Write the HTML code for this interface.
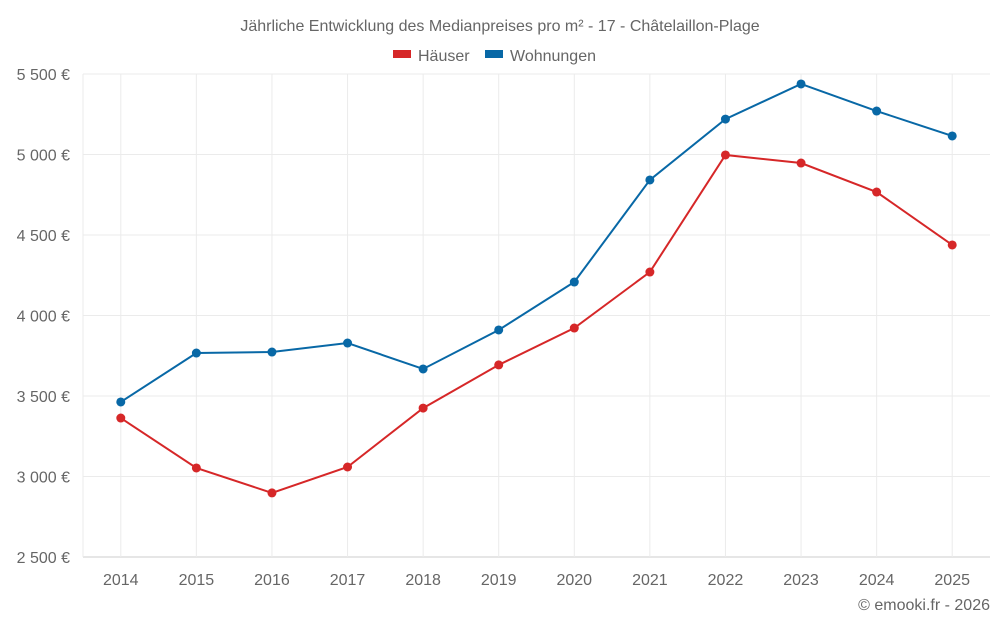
<!DOCTYPE html>
<html><head><meta charset="utf-8"><style>
body{margin:0;background:#fff;font-family:"Liberation Sans",sans-serif;}
svg text{font-family:"Liberation Sans",sans-serif;fill:#666;}
</style></head><body>
<svg id="chart" width="1000" height="625" viewBox="0 0 1000 625">
<text x="500" y="31" text-anchor="middle" font-size="16">Jährliche Entwicklung des Medianpreises pro m² - 17 - Châtelaillon-Plage</text>
<g>
<g><rect x="393" y="50" width="18" height="8" fill="#d62728"/><text x="418" y="61" font-size="16">Häuser</text></g>
<g><rect x="485" y="50" width="18" height="8" fill="#0868a6"/><text x="510" y="61" font-size="16">Wohnungen</text></g>
</g>
<g id="grid"></g><g id="axes"></g><g id="series"></g>
<text x="990" y="610" text-anchor="end" font-size="16">© emooki.fr - 2026</text>
</svg>
<script>
const years=[2014,2015,2016,2017,2018,2019,2020,2021,2022,2023,2024,2025];
const haeuser=[3363,3053,2898,3059,3425,3693,3922,4270,4997,4947,4767,4438];
const wohnungen=[3463,3767,3773,3829,3668,3910,4208,4842,5220,5438,5270,5115];
const yTicks=[2500,3000,3500,4000,4500,5000,5500];
const yTickLabels=["2 500 €","3 000 €","3 500 €","4 000 €","4 500 €","5 000 €","5 500 €"];
const L=83,R=990,T=74,B=557,yMin=2500,yMax=5500;
const step=(R-L)/years.length;
const x=i=>L+step*(i+0.5);
const y=v=>B-(v-yMin)/(yMax-yMin)*(B-T);
const NS="http://www.w3.org/2000/svg";
function mk(tag,attrs,parent){const e=document.createElementNS(NS,tag);for(const k in attrs)e.setAttribute(k,attrs[k]);document.getElementById(parent).appendChild(e);return e;}
yTicks.forEach((t,i)=>{
 const g=mk('line',{x1:L,x2:R,y1:y(t),y2:y(t),stroke:i==0?'#ccc':'#ebebeb'},'grid');
 
 
 const tx=mk('text',{x:70,y:y(t)+6,'text-anchor':'end','font-size':'16'},'axes');tx.textContent=yTickLabels[i];
 
 
});
const lb=mk('line',{x1:L,x2:L,y1:T,y2:B,stroke:'#ebebeb'},'grid');


years.forEach((yr,i)=>{
 const g=mk('line',{x1:x(i),x2:x(i),y1:T,y2:B,stroke:'#ebebeb'},'grid');
 
 
 const tx=mk('text',{x:x(i),y:585,'text-anchor':'middle','font-size':'16'},'axes');tx.textContent=yr;
 
 
});
function series(vals,color,name){
 const p=mk('polyline',{points:vals.map((v,i)=>x(i)+','+y(v)).join(' '),fill:'none',stroke:color,'stroke-width':2},'series');
 
 
 vals.forEach((v,i)=>{const c=mk('circle',{cx:x(i),cy:y(v),r:4.5,fill:color},'series');
 
 });
}
series(haeuser,'#d62728','haeuser');
series(wohnungen,'#0868a6','wohnungen');
</script>
</body></html>
